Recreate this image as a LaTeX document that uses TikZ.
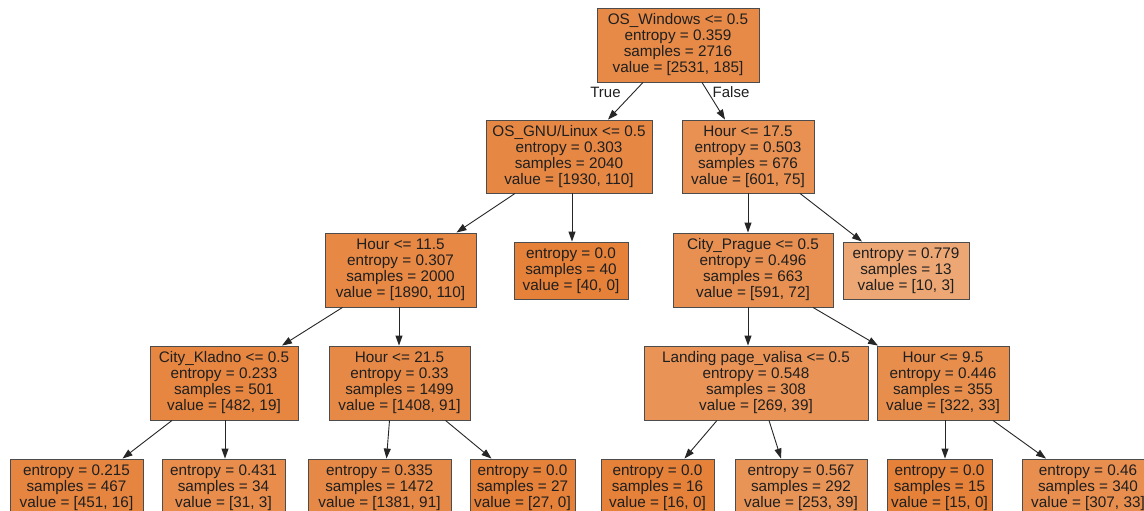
\documentclass[tikz,border=0pt]{standalone}
\usepackage{fontspec}
\setmainfont{Liberation Sans}
\usetikzlibrary{arrows.meta}
\definecolor{skorange}{RGB}{229,129,57}
\tikzset{
  treebox/.style={draw=black!70, line width=0.9pt, rectangle, inner sep=0pt,
    align=center, font=\fontsize{15.3}{16}\selectfont, text=black!88},
  edge/.style={draw=black!85, line width=0.9pt, -{Triangle[length=10pt,width=7pt]}},
  lbl/.style={font=\fontsize{15}{16}\selectfont, text=black!88, inner sep=0pt}
}
\begin{document}
\begin{tikzpicture}[x=1pt,y=-1pt]
\fill[white] (0,0) rectangle (1144,511);
\useasboundingbox (0,0) rectangle (1144,511);
\clip (0,0) rectangle (1144,511);

% level 0
\node[treebox, fill=skorange!92.7!white, minimum width=162pt, minimum height=74pt] (root) at (678,45)
  {OS\_Windows <= 0.5\\entropy = 0.359\\samples = 2716\\value = [2531, 185]};
% level 1
\node[treebox, fill=skorange!94.3!white, minimum width=166pt, minimum height=73pt] (gnu) at (569,156.5)
  {OS\_GNU/Linux <= 0.5\\entropy = 0.303\\samples = 2040\\value = [1930, 110]};
\node[treebox, fill=skorange!87.5!white, minimum width=132pt, minimum height=73pt] (h175) at (748,156.5)
  {Hour <= 17.5\\entropy = 0.503\\samples = 676\\value = [601, 75]};
% level 2
\node[treebox, fill=skorange!94.2!white, minimum width=151pt, minimum height=74pt] (h115) at (400.5,270)
  {Hour <= 11.5\\entropy = 0.307\\samples = 2000\\value = [1890, 110]};
\node[treebox, fill=skorange, minimum width=114pt, minimum height=57pt] (l40) at (571,270.5)
  {entropy = 0.0\\samples = 40\\value = [40, 0]};
\node[treebox, fill=skorange!87.8!white, minimum width=160pt, minimum height=74pt] (prague) at (753,270)
  {City\_Prague <= 0.5\\entropy = 0.496\\samples = 663\\value = [591, 72]};
\node[treebox, fill=skorange!70!white, minimum width=126pt, minimum height=57pt] (e779) at (906,270.5)
  {entropy = 0.779\\samples = 13\\value = [10, 3]};
% level 3
\node[treebox, fill=skorange!96.1!white, minimum width=148pt, minimum height=74pt] (kladno) at (224,383)
  {City\_Kladno <= 0.5\\entropy = 0.233\\samples = 501\\value = [482, 19]};
\node[treebox, fill=skorange!93.5!white, minimum width=141pt, minimum height=74pt] (h215) at (399.5,383)
  {Hour <= 21.5\\entropy = 0.33\\samples = 1499\\value = [1408, 91]};
\node[treebox, fill=skorange!85.5!white, minimum width=224pt, minimum height=74pt] (landing) at (756,383)
  {Landing page\_valisa <= 0.5\\entropy = 0.548\\samples = 308\\value = [269, 39]};
\node[treebox, fill=skorange!89.8!white, minimum width=132pt, minimum height=74pt] (h95) at (943,383)
  {Hour <= 9.5\\entropy = 0.446\\samples = 355\\value = [322, 33]};
% level 4 (leaves)
\node[treebox, fill=skorange!96.5!white, minimum width=133pt, minimum height=57pt] (lf1) at (76.5,487.5)
  {entropy = 0.215\\samples = 467\\value = [451, 16]};
\node[treebox, fill=skorange!90.3!white, minimum width=123pt, minimum height=57pt] (lf2) at (223.5,487.5)
  {entropy = 0.431\\samples = 34\\value = [31, 3]};
\node[treebox, fill=skorange!93.4!white, minimum width=143pt, minimum height=57pt] (lf3) at (379.5,487.5)
  {entropy = 0.335\\samples = 1472\\value = [1381, 91]};
\node[treebox, fill=skorange, minimum width=105pt, minimum height=57pt] (lf4) at (522.5,487.5)
  {entropy = 0.0\\samples = 27\\value = [27, 0]};
\node[treebox, fill=skorange, minimum width=113pt, minimum height=57pt] (lf5) at (657.5,487.5)
  {entropy = 0.0\\samples = 16\\value = [16, 0]};
\node[treebox, fill=skorange!84.6!white, minimum width=132pt, minimum height=57pt] (lf6) at (801,487.5)
  {entropy = 0.567\\samples = 292\\value = [253, 39]};
\node[treebox, fill=skorange, minimum width=105pt, minimum height=57pt] (lf7) at (939.5,487.5)
  {entropy = 0.0\\samples = 15\\value = [15, 0]};
\node[treebox, fill=skorange!89.3!white, minimum width=132pt, minimum height=57pt] (lf8) at (1088,487.5)
  {entropy = 0.46\\samples = 340\\value = [307, 33]};

% edges
\draw[edge] ([xshift=-35pt]root.south) -- ([xshift=39pt]gnu.north);
\draw[edge] ([xshift=24pt]root.south) -- ([xshift=-23pt]h175.north);
\node[lbl] (ltrue) at (605.5,92) {True};
\node[lbl] (lfalse) at (731,92.5) {False};

\draw[edge] ([xshift=-54pt]gnu.south) -- ([xshift=56pt]h115.north);
\draw[edge] ([xshift=3pt]gnu.south) -- ([xshift=1pt]l40.north);
\draw[edge] ([xshift=0pt]h175.south) -- ([xshift=-5pt]prague.north);
\draw[edge] ([xshift=52pt]h175.south) -- ([xshift=-44pt]e779.north);

\draw[edge] ([xshift=-58pt]h115.south) -- ([xshift=58pt]kladno.north);
\draw[edge] ([xshift=-1.5pt]h115.south) -- ([xshift=-0.5pt]h215.north);
\draw[edge] ([xshift=-5pt]prague.south) -- ([xshift=-8pt]landing.north);
\draw[edge] ([xshift=60pt]prague.south) -- ([xshift=-65pt]h95.north);

\draw[edge] ([xshift=-52pt]kladno.south) -- ([xshift=46pt]lf1.north);
\draw[edge] ([xshift=1pt]kladno.south) -- ([xshift=1.5pt]lf2.north);
\draw[edge] ([xshift=-10pt]h215.south) -- ([xshift=7pt]lf3.north);
\draw[edge] ([xshift=46pt]h215.south) -- ([xshift=-31pt]lf4.north);
\draw[edge] ([xshift=-39pt]landing.south) -- ([xshift=27pt]lf5.north);
\draw[edge] ([xshift=13pt]landing.south) -- ([xshift=-20pt]lf6.north);
\draw[edge] ([xshift=2pt]h95.south) -- ([xshift=5.5pt]lf7.north);
\draw[edge] ([xshift=50pt]h95.south) -- ([xshift=-42pt]lf8.north);
\end{tikzpicture}
\end{document}
